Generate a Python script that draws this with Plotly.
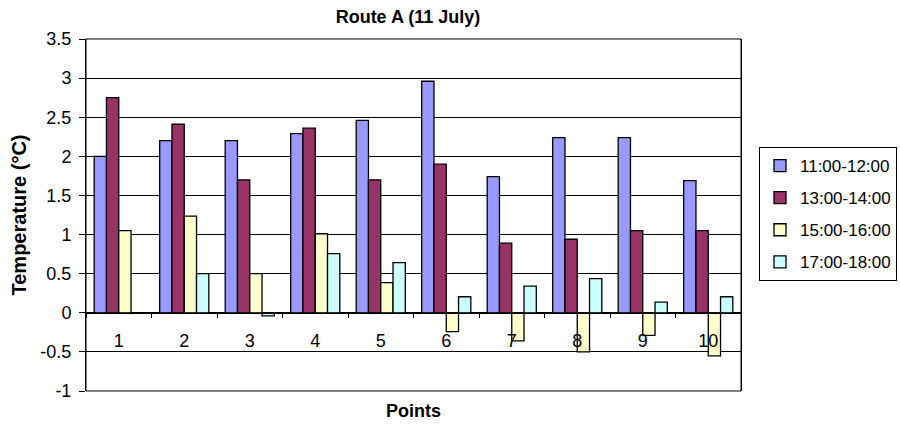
import plotly.graph_objects as go

points = ["1", "2", "3", "4", "5", "6", "7", "8", "9", "10"]
series_names = ["11:00-12:00", "13:00-14:00", "15:00-16:00", "17:00-18:00"]
s1100 = [2.0, 2.2, 2.2, 2.29, 2.46, 2.96, 1.74, 2.24, 2.24, 1.69]
s1300 = [2.75, 2.41, 1.70, 2.36, 1.70, 1.90, 0.89, 0.94, 1.05, 1.05]
s1500 = [1.05, 1.235, 0.5, 1.01, 0.385, -0.24, -0.36, -0.5, -0.29, -0.55]
s1700 = [0.0, 0.5, -0.04, 0.756, 0.64, 0.205, 0.34, 0.436, 0.137, 0.205]
colors = ["#9999FF", "#993366", "#FFFFCC", "#CCFFFF"]
yticks = [-1, -0.5, 0, 0.5, 1, 1.5, 2, 2.5, 3, 3.5]
ytick_text = ["-1", "-0.5", "0", "0.5", "1", "1.5", "2", "2.5", "3", "3.5"]

FONT = "Liberation Sans, Arial, sans-serif"

fig = go.Figure()
for i, (name, vals) in enumerate(zip(series_names, [s1100, s1300, s1500, s1700])):
    fig.add_trace(go.Bar(
        x=points, y=vals, name=name, legendgroup=name,
        marker=dict(color=colors[i], line=dict(color="black", width=1.3)),
    ))

fig.update_layout(
    width=900, height=425,
    paper_bgcolor="white", plot_bgcolor="white",
    margin=dict(l=86, r=159, t=39, b=34, autoexpand=False),
    barmode="group", bargap=0.25, bargroupgap=0,
    font=dict(family=FONT, size=18, color="black"),
    title=dict(text="<b>Route A (11 July)</b>", x=408/900, xanchor="center",
               y=1 - 17/425, yanchor="middle", font=dict(size=18, family=FONT)),
    showlegend=True,
    legend=dict(x=(759 - 86)/655, xanchor="left", y=(391 - 214)/352, yanchor="middle",
                bordercolor="black", borderwidth=1, bgcolor="white",
                font=dict(size=17, family=FONT), tracegroupgap=7,
                itemwidth=30),
    xaxis=dict(anchor="free", position=1/4.5, showline=True, linecolor="black", linewidth=1,
               ticks="outside", ticklen=4, tickcolor="black", tickson="boundaries",
               ticklabelstandoff=12, showgrid=False, tickfont=dict(size=18)),
    yaxis=dict(range=[-1, 3.5], tickvals=yticks, ticktext=ytick_text,
               showline=True, linecolor="black", linewidth=1, mirror=True,
               ticks="outside", ticklen=6, tickcolor="black", ticklabelstandoff=4,
               showgrid=True, gridcolor="black", gridwidth=1,
               zeroline=False, tickfont=dict(size=18),
               title=dict(text="<b>Temperature (°C)</b>", font=dict(size=20), standoff=8)),
    shapes=[dict(type="rect", xref="paper", yref="paper", x0=0, x1=1, y0=0, y1=1,
                 line=dict(color="black", width=1), fillcolor="rgba(0,0,0,0)", layer="above")],
    annotations=[dict(text="<b>Points</b>", xref="paper", yref="paper",
                      x=(413 - 86)/655, y=-(411 - 391)/352, xanchor="center", yanchor="middle",
                      showarrow=False, font=dict(size=18, family=FONT))],
)

fig.write_html("out.html", config={"displayModeBar": False},
               post_script="document.body.style.margin='0';document.body.style.overflow='hidden';")
